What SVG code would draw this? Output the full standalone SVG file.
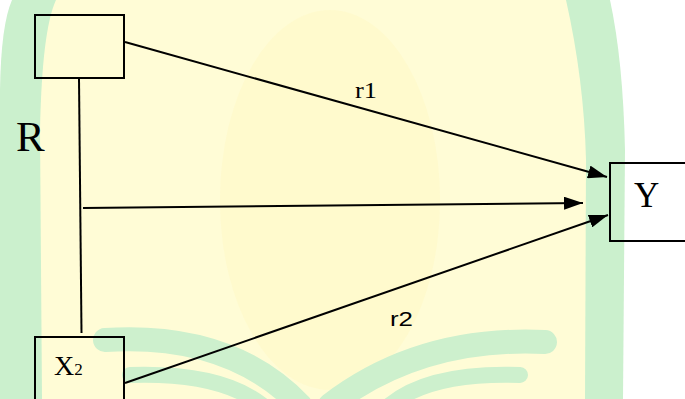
<svg xmlns="http://www.w3.org/2000/svg" width="685" height="399" viewBox="0 0 685 399">
<style>
.box{fill:none;stroke:#000;stroke-width:2}
.con{stroke:#000;stroke-width:2;fill:none}
.serif{font-family:"Liberation Serif","Times New Roman",serif;fill:#000}
.sans{font-family:"Liberation Sans",Arial,sans-serif;fill:#000}
.wm-g{fill:#cbf0cd}
.wm-y{fill:#fffcd6}
.wm-stroke{fill:none;stroke:#cdf0cd;stroke-linecap:round}
</style>
<defs>
<marker id="arr" markerUnits="userSpaceOnUse" markerWidth="19" markerHeight="13" refX="19" refY="6.5" orient="auto">
<path d="M0,0 L19,6.5 L0,13 Z" fill="#000"/>
</marker>
</defs>
<rect width="685" height="399" fill="#fff"/>
<g id="watermark">
<path class="wm-g" d="M0,399 L0,90 Q1,25 12,0 L610,0 Q623,60 625,150 L623,399 Z"/>
<path class="wm-y" d="M42,399 L40,130 Q42,30 56,0 L566,0 Q584,80 586,160 L585,399 Z"/>
<ellipse cx="330" cy="200" rx="110" ry="190" fill="#fff9c6" opacity="0.6"/>
<path class="wm-stroke" stroke-width="24" d="M105,340 Q230,332 300,405"/>
<path class="wm-stroke" stroke-width="16" d="M130,375 Q220,372 262,405"/>
<path class="wm-stroke" stroke-width="24" d="M545,342 Q420,336 330,405"/>
<path class="wm-stroke" stroke-width="16" d="M520,375 Q430,372 390,405"/>
</g>
<g id="connectors">
<line class="con" stroke-width="1.5" x1="79" y1="79" x2="81.5" y2="333"/>
<line class="con" x1="125" y1="42" x2="607" y2="177" marker-end="url(#arr)"/>
<line class="con" x1="83" y1="208" x2="583" y2="203" marker-end="url(#arr)"/>
<line class="con" x1="125" y1="383" x2="608" y2="215" marker-end="url(#arr)"/>
<text class="serif" x="355" y="98" font-size="24" textLength="22" lengthAdjust="spacingAndGlyphs">r1</text>
<text class="sans" x="390" y="326" font-size="20" textLength="23" lengthAdjust="spacingAndGlyphs">r2</text>
</g>
<g id="node-x1">
<rect class="box" x="35" y="15" width="89" height="63"/>
</g>
<g id="label-r">
<text class="serif" x="16" y="151" font-size="43">R</text>
</g>
<g id="node-x2">
<rect class="box" x="35" y="337" width="89" height="80"/>
<text class="serif" x="54" y="375" font-size="28">X<tspan font-size="17">2</tspan></text>
</g>
<g id="node-y">
<rect class="box" x="610" y="163" width="100" height="78"/>
<text class="serif" x="634" y="207" font-size="35">Y</text>
</g>
</svg>
